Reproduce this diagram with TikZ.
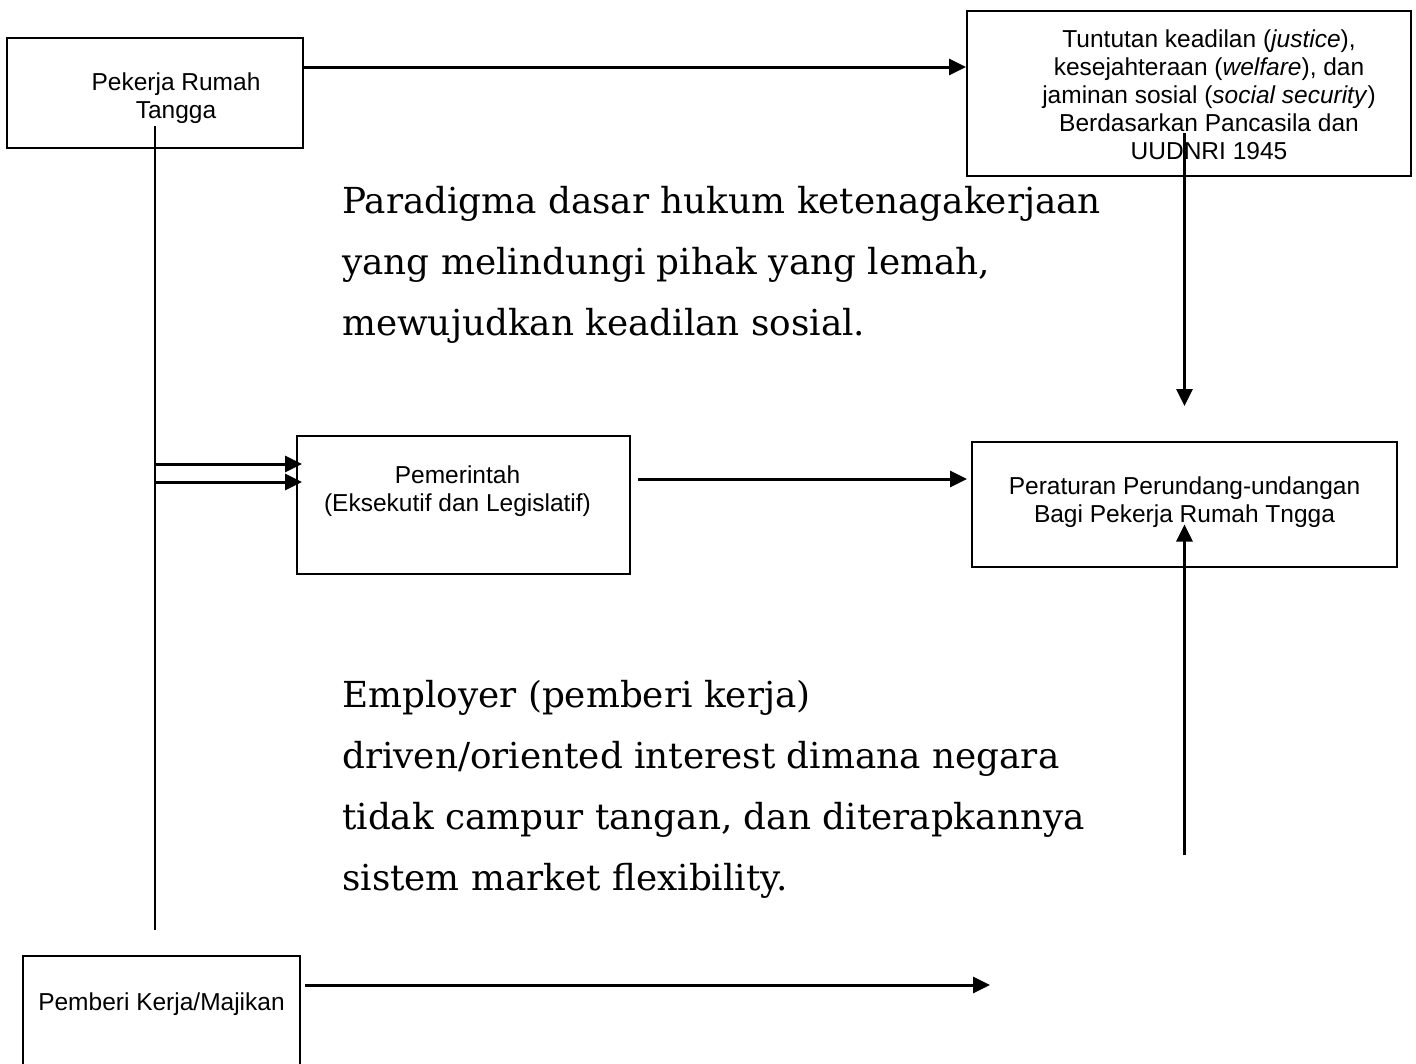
\documentclass[tikz,border=0pt]{standalone}
\usepackage{fontspec}
\setmainfont{Liberation Sans}
\newfontfamily\notefont{DejaVu Serif}
\usetikzlibrary{arrows.meta}

\begin{document}
\begin{tikzpicture}[
            x=1pt,
            y=-1pt,
            box/.style={
                rectangle,
                draw,
                line width=2pt,
                inner sep=0pt
            },
            boxtext/.style={
                align=center,
                font=\fontsize{24.5}{28}\selectfont
            },
            note/.style={
                anchor=base west,
                align=left,
                inner sep=0pt,
                font=\notefont\fontsize{35.8}{61}\selectfont
            },
            arr/.style={
                line width=3pt,
                -{Triangle[length=17pt,width=16pt]}
            }
        ]
            \path[use as bounding box] (0,0) rectangle (1416,1063);
            \clip (0,0) rectangle (1416,1063);

            \node[box, minimum width=296pt, minimum height=110pt,
                label={[boxtext, xshift=21pt, yshift=-5.5pt]center:Pekerja Rumah\\Tangga}]
                (worker) at (155,93) {};
            \node[box, minimum width=444pt, minimum height=165pt,
                label={[boxtext, xshift=20pt, yshift=-1pt]center:Tuntutan keadilan (\textit{justice}),\\kesejahteraan (\textit{welfare}), dan\\jaminan sosial (\textit{social security})\\Berdasarkan Pancasila dan\\UUDNRI 1945}]
                (claims) at (1189,93.5) {};
            \node[box, minimum width=333pt, minimum height=138pt,
                label={[boxtext, xshift=-6pt, yshift=14pt]center:Pemerintah\\(Eksekutif dan Legislatif)}]
                (govt) at (463.5,505) {};
            \node[box, minimum width=425pt, minimum height=125pt,
                label={[boxtext, yshift=2pt]center:Peraturan Perundang-undangan\\Bagi Pekerja Rumah Tngga}]
                (rules) at (1184.5,504.5) {};
            \node[box, minimum width=277pt, minimum height=144pt,
                label={[boxtext, yshift=24pt]center:Pemberi Kerja/Majikan}]
                (employer) at (161.5,1028) {};

            \node[note] (paradigm) at (342,335) {Paradigma dasar hukum ketenagakerjaan\\yang melindungi pihak yang lemah,\\mewujudkan keadilan sosial.};
            \node[note] (market) at (342,890) {Employer (pemberi kerja)\\driven/oriented interest dimana negara\\tidak campur tangan, dan diterapkannya\\sistem market flexibility.};

            \coordinate (spinefoot) at (155,930);
            \coordinate (tapA) at (155,464);
            \coordinate (tapB) at (155,482);
            \coordinate (rulesfoot) at (1184.5,855);
            \coordinate (employerend) at (990,985);

            \draw[arr] ([yshift=26pt]worker.east) -- ([yshift=26pt]worker.east -| claims.west);
            \draw[line width=2pt] ([yshift=-33pt]worker.center) -- (spinefoot);
            \draw[arr, shorten >=-6pt] (tapA) -- (tapA -| govt.west);
            \draw[arr, shorten >=-6pt] (tapB) -- (tapB -| govt.west);
            \draw[arr, shorten >=4pt] ([xshift=7pt,yshift=26pt]govt.east) -- ([yshift=26pt]govt.east -| rules.west);
            \draw[arr] ([yshift=44pt]claims.south -| rules.north) -- ([yshift=35pt]rules.north);
            \draw[arr] (rulesfoot) -- ([yshift=-20pt]rules.center);
            \draw[arr] ([xshift=4pt]employer.east |- employerend) -- (employerend);
        \end{tikzpicture}
\end{document}
